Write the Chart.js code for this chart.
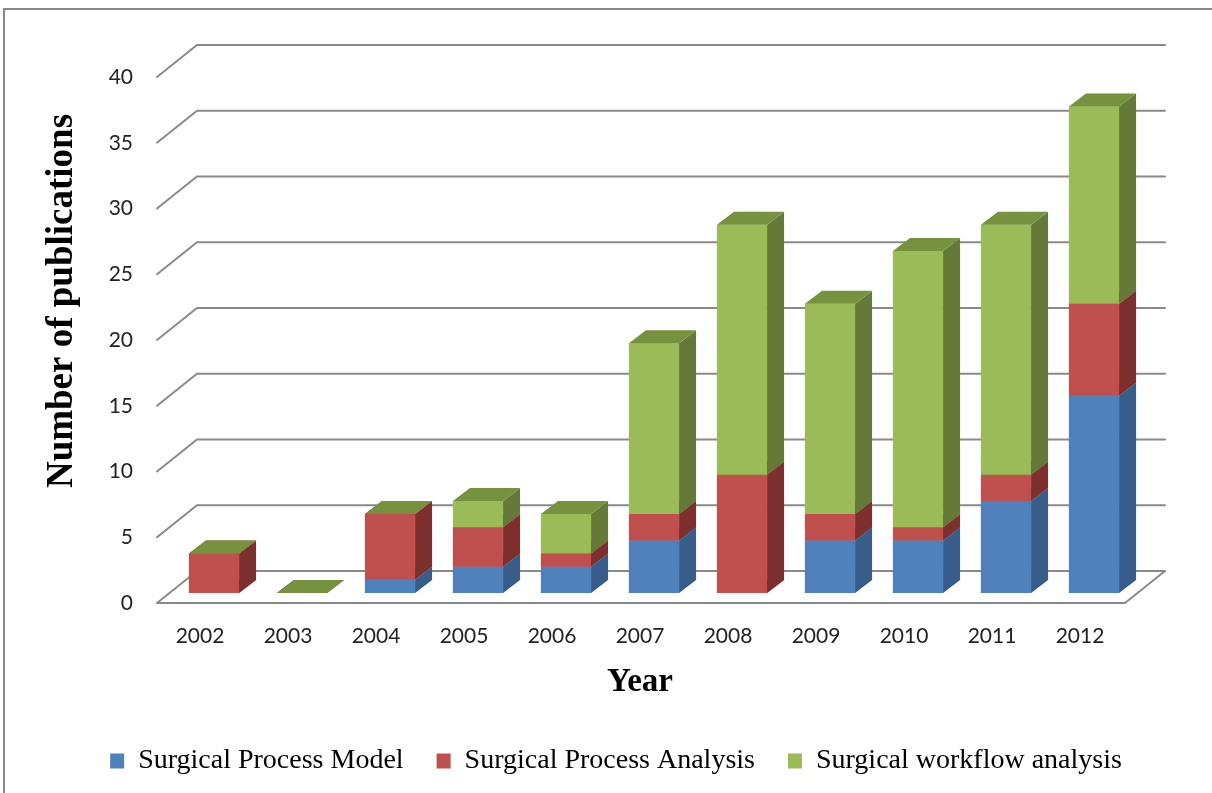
<!DOCTYPE html>
<html>
<head>
<meta charset="utf-8">
<script src="https://cdn.jsdelivr.net/npm/chart.js@4.4.0/dist/chart.umd.min.js"></script>
<style>
  html, body { margin: 0; padding: 0; background: #fff; }
  #wrap { position: relative; width: 1212px; height: 793px; overflow: hidden; }
  #frame { position: absolute; left: 3px; top: 8px; width: 1300px; height: 900px;
           border-left: 2px solid #888; border-top: 2px solid #888; }
  canvas { position: absolute; left: 0; top: 0; }
</style>
</head>
<body>
<div id="wrap">
  <div id="frame"></div>
  <canvas id="pubChart" width="1212" height="793"></canvas>
</div>
<script>
const years = ["2002", "2003", "2004", "2005", "2006", "2007", "2008", "2009", "2010", "2011", "2012"];
const processModel = [0, 0, 1, 2, 2, 4, 0, 4, 4, 7, 15];
const processAnalysis = [3, 0, 5, 3, 1, 2, 9, 2, 1, 2, 7];
const workflowAnalysis = [0, 0, 0, 2, 3, 13, 19, 16, 21, 19, 15];
const seriesNames = ["Surgical Process Model", "Surgical Process Analysis", "Surgical workflow analysis"];
const yMin = 0, yMax = 40, yStep = 5;
const yTitle = "Number of publications";
const xTitle = "Year";

// 3d look: bar depth, floor front edge and back wall, relative to the bar plane
const BAR_DX = 17, BAR_DY = -13;
const FRONT_DX = -13, FRONT_DY = 10;
const BACK_DX = 27, BACK_DY = -22;
const PLOT_BOTTOM = 593;
const PAD_BOTTOM = 8;

function face(ctx, pts, color) {
  ctx.beginPath();
  ctx.moveTo(pts[0][0], pts[0][1]);
  for (let i = 1; i < pts.length; i++) ctx.lineTo(pts[i][0], pts[i][1]);
  ctx.closePath();
  ctx.fillStyle = color;
  ctx.fill();
}

const wallsPlugin = {
  id: "walls",
  beforeDatasetsDraw(chart) {
    const ctx = chart.ctx;
    const y = chart.scales.y;
    const { left, right } = chart.chartArea;
    const y0 = y.getPixelForValue(0);
    ctx.save();
    ctx.strokeStyle = "#8a8a8a";
    ctx.lineWidth = 2;
    ctx.lineCap = "round";
    y.ticks.forEach((t) => {
      const py = y.getPixelForValue(t.value);
      ctx.beginPath();
      ctx.moveTo(left + FRONT_DX, py + FRONT_DY);
      ctx.lineTo(left + BACK_DX, py + BACK_DY);
      ctx.lineTo(right + BACK_DX, py + BACK_DY);
      ctx.stroke();
    });
    // floor
    ctx.beginPath();
    ctx.moveTo(left + FRONT_DX, y0 + FRONT_DY);
    ctx.lineTo(right + FRONT_DX, y0 + FRONT_DY);
    ctx.lineTo(right + BACK_DX, y0 + BACK_DY);
    ctx.stroke();
    ctx.restore();
  },
  afterDatasetsDraw(chart) {
    const ctx = chart.ctx;
    ctx.save();
    const n = chart.data.labels.length;
    for (let i = 0; i < n; i++) {
      chart.data.datasets.forEach((ds, d) => {
        const el = chart.getDatasetMeta(d).data[i];
        const l = el.x - el.width / 2, r = el.x + el.width / 2;
        const top = Math.min(el.y, el.base), bot = Math.max(el.y, el.base);
        face(ctx, [[l, top], [r, top], [r, bot], [l, bot]], ds.backgroundColor);
        face(ctx, [[r, bot], [r + BAR_DX, bot + BAR_DY], [r + BAR_DX, top + BAR_DY], [r, top]], ds.sideColor);
        face(ctx, [[l, top], [r, top], [r + BAR_DX, top + BAR_DY], [l + BAR_DX, top + BAR_DY]], ds.topColor);
      });
    }
    ctx.restore();
  },
  afterDraw(chart) {
    const ctx = chart.ctx;
    ctx.save();
    ctx.fillStyle = "#000";
    ctx.textAlign = "center";
    ctx.textBaseline = "middle";
    ctx.font = "bold 37px 'Liberation Serif'";
    ctx.translate(62, 301);
    ctx.rotate(-Math.PI / 2);
    ctx.fillText(yTitle, 0, 0);
    ctx.restore();
    ctx.save();
    ctx.fillStyle = "#000";
    ctx.textAlign = "center";
    ctx.textBaseline = "alphabetic";
    ctx.font = "bold 33px 'Liberation Serif'";
    ctx.fillText(xTitle, 640, 691);
    ctx.restore();
  },
};

const ctx = document.getElementById("pubChart").getContext("2d");
const myChart = new Chart(ctx, {
  type: "bar",
  data: {
    labels: years,
    datasets: [
      { label: seriesNames[0], data: processModel, backgroundColor: "#4F81BD", sideColor: "#385D8A", topColor: "#5F8DC6" },
      { label: seriesNames[1], data: processAnalysis, backgroundColor: "#C0504D", sideColor: "#7D2F2D", topColor: "#9E3F3C" },
      { label: seriesNames[2], data: workflowAnalysis, backgroundColor: "#9BBB59", sideColor: "#657A38", topColor: "#77923F" },
    ],
  },
  options: {
    responsive: false,
    animation: false,
    layout: { padding: { left: 20, right: 0, top: 67, bottom: PAD_BOTTOM } },
    datasets: { bar: { barPercentage: 0.57, categoryPercentage: 1.0 } },
    plugins: {
      tooltip: { enabled: false },
      legend: {
        position: "bottom",
        labels: {
          boxWidth: 14,
          boxHeight: 15,
          padding: 33,
          color: "#000",
          font: { family: "'Liberation Serif'", size: 28 },
        },
      },
    },
    scales: {
      x: {
        stacked: true,
        grid: { display: false, drawTicks: false },
        border: { display: false },
        ticks: { color: "#222", font: { family: "Lato", size: 21 }, padding: 31, labelOffset: -14, maxRotation: 0 },
        afterFit(s) {
          s.height = s.chart.height - PLOT_BOTTOM - s.chart.legend.height - PAD_BOTTOM;
        },
      },
      y: {
        stacked: true,
        min: yMin,
        max: yMax,
        grid: { display: false, drawTicks: false },
        border: { display: false },
        ticks: { stepSize: yStep, color: "#222", font: { family: "Lato", size: 21 }, padding: 37, labelOffset: 10 },
        afterFit(s) {
          s.width = 150;
        },
      },
      yRight: {
        position: "right",
        display: true,
        grid: { display: false, drawTicks: false },
        border: { display: false },
        ticks: { display: false },
        afterFit(s) {
          s.width = 74;
        },
      },
    },
  },
  plugins: [wallsPlugin],
});
</script>
</body>
</html>
